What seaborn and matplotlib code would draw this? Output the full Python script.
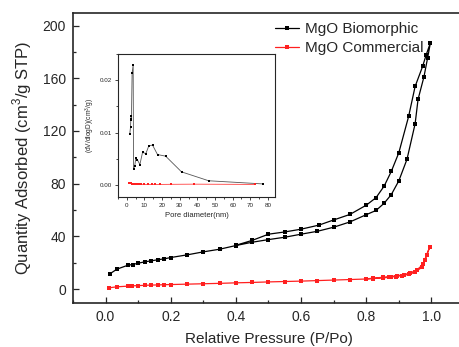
import matplotlib
matplotlib.use("Agg")
import matplotlib.pyplot as plt
import seaborn as sns
import pandas as pd
from matplotlib.ticker import MultipleLocator

# ---- Main isotherm data ----
bio_ads_x = [0.013, 0.035, 0.069, 0.083, 0.10, 0.12, 0.14, 0.16, 0.18, 0.20, 0.25, 0.30, 0.35,
             0.40, 0.45, 0.50, 0.55, 0.60, 0.65, 0.70, 0.75, 0.80, 0.83, 0.855, 0.877, 0.90,
             0.925, 0.95, 0.959, 0.977, 0.988, 0.997]
bio_ads_y = [11.6, 15.2, 18.2, 18.7, 19.7, 20.7, 21.5, 22.3, 23.0, 24.0, 26.0, 28.3, 30.3,
             33.1, 35.6, 37.6, 39.4, 41.7, 43.9, 47.0, 51.0, 56.5, 59.7, 65.2, 71.8, 82.2,
             98.5, 125.5, 144.0, 161.0, 175.0, 187.0]
bio_des_x = [0.997, 0.984, 0.973, 0.95, 0.93, 0.90, 0.877, 0.855, 0.83, 0.80, 0.75, 0.70,
             0.655, 0.60, 0.55, 0.50, 0.45, 0.40]
bio_des_y = [187.0, 177.8, 169.0, 153.8, 131.0, 103.5, 89.4, 78.2, 69.4, 63.7, 56.7, 52.5,
             48.6, 45.5, 43.4, 41.7, 37.0, 33.3]

com_ads_x = [0.01, 0.035, 0.07, 0.08, 0.10, 0.12, 0.14, 0.16, 0.18, 0.20, 0.25, 0.30, 0.35,
             0.40, 0.45, 0.50, 0.55, 0.60, 0.65, 0.70, 0.75, 0.80, 0.82, 0.85, 0.87, 0.89,
             0.91, 0.93, 0.95, 0.97, 0.98, 0.995]
com_ads_y = [1.0, 1.8, 2.3, 2.5, 2.7, 2.9, 3.1, 3.2, 3.4, 3.5, 3.8, 4.1, 4.4, 4.8, 5.1, 5.5,
             5.8, 6.1, 6.5, 6.9, 7.3, 7.7, 8.0, 8.5, 9.0, 9.6, 10.3, 11.2, 12.8, 16.5, 22.0, 32.0]
com_des_x = [0.995, 0.985, 0.975, 0.955, 0.935, 0.915, 0.895, 0.875, 0.85, 0.82, 0.80]
com_des_y = [32.0, 26.0, 19.0, 14.5, 12.3, 11.0, 10.2, 9.6, 9.0, 8.3, 7.8]

# ---- Inset pore size distribution ----
bio_pore_x = [1.7, 2.1, 2.3, 2.5, 2.6, 3.0, 3.6, 3.8, 4.5, 5.1, 6.0, 7.4, 8.9, 10.8, 12.5,
              14.6, 17.4, 22.0, 31.0, 46.4, 77.0]
bio_pore_y = [0.0098, 0.0111, 0.0126, 0.0131, 0.0124, 0.0214, 0.0229, 0.0030, 0.0037, 0.0051,
              0.0048, 0.0039, 0.0062, 0.0060, 0.0075, 0.0076, 0.0058, 0.0055, 0.0025, 0.0008,
              0.0002]
com_pore_x = [1.5, 2.0, 2.5, 3.0, 3.5, 4.0, 4.5, 5.0, 6.0, 7.0, 8.0, 10.0, 12.0, 14.0, 16.0,
              19.0, 25.0, 38.0, 72.5]
com_pore_y = [0.0003, 0.0003, 0.0003, 0.00025, 0.00022, 0.0002, 0.0002, 0.00018, 0.00015,
              0.00013, 0.00012, 0.0001, 0.0001, 0.0001, 0.0001, 0.0001, 0.00012, 0.00015, 0.0001]

labels = ["MgO Biomorphic", "MgO Commercial"]
colors = {"MgO Biomorphic": "black", "MgO Commercial": "#ff2020"}

main_df = pd.concat([
    pd.DataFrame({"x": bio_ads_x + bio_des_x, "y": bio_ads_y + bio_des_y, "s": labels[0]}),
    pd.DataFrame({"x": com_ads_x + com_des_x, "y": com_ads_y + com_des_y, "s": labels[1]}),
], ignore_index=True)
pore_df = pd.concat([
    pd.DataFrame({"x": bio_pore_x, "y": bio_pore_y, "s": labels[0]}),
    pd.DataFrame({"x": com_pore_x, "y": com_pore_y, "s": labels[1]}),
], ignore_index=True)

sns.set_style("ticks")
plt.rcParams["font.family"] = ["Liberation Sans", "DejaVu Sans"]
plt.rcParams["mathtext.fontset"] = "custom"
plt.rcParams["mathtext.rm"] = "Liberation Sans"

fig = plt.figure(figsize=(4.6, 3.47), dpi=100)
ax = fig.add_axes([73/460, 1-303/347, (464-73)/460, (303-13)/347])

sns.lineplot(data=main_df, x="x", y="y", hue="s", palette=colors, sort=False,
             estimator=None, marker="s", markersize=2.5, markeredgewidth=0,
             linewidth=0.9, ax=ax)
ax.set_xlim(-0.1, 1.1)
ax.set_ylim(-10.5, 209.5)
ax.xaxis.set_major_locator(MultipleLocator(0.2))
ax.xaxis.set_minor_locator(MultipleLocator(0.1))
ax.yaxis.set_major_locator(MultipleLocator(40))
ax.yaxis.set_minor_locator(MultipleLocator(20))
ax.set_xticks([0.0, 0.2, 0.4, 0.6, 0.8, 1.0])
ax.set_xticklabels(["0.0", "0.2", "0.4", "0.6", "0.8", "1.0"])
ax.tick_params(which="major", length=4, width=0.9, labelsize=10, direction="in", pad=5)
ax.tick_params(which="minor", length=2.4, width=0.9, direction="in")
for sp in ax.spines.values():
    sp.set_linewidth(1.2)
ax.set_xlabel("Relative Pressure (P/Po)", fontsize=11, labelpad=6)
ax.set_ylabel("Quantity Adsorbed (cm$^3$/g STP)", fontsize=12, labelpad=6)
leg = ax.legend(loc="upper left", bbox_to_anchor=(0.5, 0.99), frameon=False,
                fontsize=11, handlelength=1.6, handletextpad=0.4, labelspacing=0.35,
                borderaxespad=0)

# inset
ins = fig.add_axes([118/460, 1-197/347, (275-118)/460, (197-54)/347])
sns.lineplot(data=pore_df, x="x", y="y", hue="s", palette={"MgO Biomorphic": "#555555",
             "MgO Commercial": "#ff4040"}, sort=False, estimator=None, marker="s",
             markersize=2.0, markeredgewidth=0, linewidth=0.6, ax=ins, legend=False)
for line, c in zip(ins.lines, ["black", "#ff2020"]):
    line.set_markerfacecolor(c)
ins.set_xlim(-5, 84)
ins.set_ylim(-0.0023, 0.025)
ins.xaxis.set_major_locator(MultipleLocator(10))
ins.xaxis.set_minor_locator(MultipleLocator(5))
ins.yaxis.set_major_locator(MultipleLocator(0.01))
ins.yaxis.set_minor_locator(MultipleLocator(0.005))
ins.set_yticks([0.0, 0.01, 0.02])
ins.set_yticklabels(["0.00", "0.01", "0.02"])
ins.tick_params(which="major", length=2.2, width=0.6, labelsize=4.5, pad=2)
ins.tick_params(which="minor", length=1.3, width=0.6)
for sp in ins.spines.values():
    sp.set_linewidth(0.8)
ins.set_xlabel("Pore diameter(nm)", fontsize=5.5, labelpad=3)
ins.set_ylabel("(dV/dlogD)(cm$^3$/g)", fontsize=4.8, labelpad=2)

fig.savefig("out.png", dpi=100)
